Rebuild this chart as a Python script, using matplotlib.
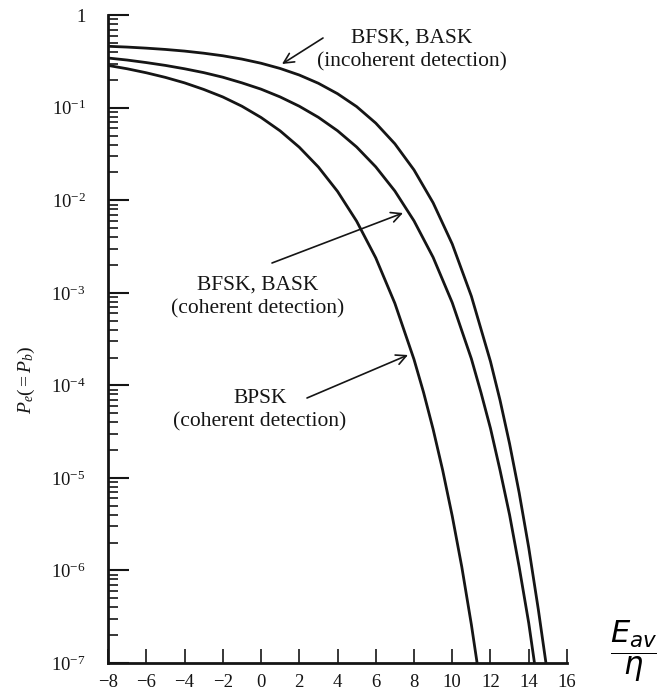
import matplotlib
matplotlib.use("Agg")
import matplotlib.pyplot as plt
from matplotlib.ticker import LogLocator, NullFormatter, FixedLocator, FixedFormatter

# --- data: E_av/eta in dB vs bit error probability ---
snr_bpsk = [-8, -7, -6, -5, -4, -3, -2, -1, 0, 1, 2, 3, 4, 5, 6, 7, 8, 8.5, 9, 9.5, 10, 10.5, 11, 11.3]
pe_bpsk = [0.287, 0.264, 0.239, 0.213, 0.186, 0.158, 0.131, 0.104, 0.0786, 0.0563, 0.0375,
           0.0229, 0.0125, 5.95e-3, 2.39e-3, 7.7e-4, 1.91e-4, 8.4e-5, 3.36e-5, 1.21e-5,
           3.87e-6, 1.09e-6, 2.6e-7, 1.0e-7]

snr_coh = [-8, -7, -6, -5, -4, -3, -2, -1, 0, 1, 2, 3, 4, 5, 6, 7, 8, 9, 10, 11, 11.5, 12, 12.5, 13, 13.5, 14, 14.3]
pe_coh = [0.345, 0.328, 0.308, 0.287, 0.264, 0.240, 0.214, 0.186, 0.159, 0.131, 0.104, 0.0789,
          0.0565, 0.0377, 0.0230, 0.0126, 6.0e-3, 2.42e-3, 7.83e-4, 1.94e-4, 8.4e-5, 3.43e-5,
          1.21e-5, 3.97e-6, 1.09e-6, 2.7e-7, 1.0e-7]

snr_incoh = [-8, -7, -6, -5, -4, -3, -2, -1, 0, 1, 2, 3, 4, 5, 6, 7, 8, 9, 10, 11, 12, 12.5, 13, 13.5, 14, 14.5, 14.9]
pe_incoh = [0.462, 0.453, 0.441, 0.427, 0.410, 0.389, 0.365, 0.336, 0.303, 0.266, 0.226, 0.184,
            0.142, 0.103, 0.0683, 0.0408, 0.0213, 9.4e-3, 3.37e-3, 9.2e-4, 1.81e-4, 6.9e-5,
            2.33e-5, 6.9e-6, 1.76e-6, 3.8e-7, 1.0e-7]

x_ticks = [-8, -6, -4, -2, 0, 2, 4, 6, 8, 10, 12, 14, 16]
y_ticks = [1e-7, 1e-6, 1e-5, 1e-4, 1e-3, 1e-2, 1e-1, 1]
y_labels = [r"$10^{-7}$", r"$10^{-6}$", r"$10^{-5}$", r"$10^{-4}$",
            r"$10^{-3}$", r"$10^{-2}$", r"$10^{-1}$", "1"]

ink = "#151515"
serif = "Liberation Serif"
plt.rcParams["mathtext.fontset"] = "custom"
plt.rcParams["mathtext.rm"] = serif
plt.rcParams["mathtext.it"] = serif + ":italic"

fig = plt.figure(figsize=(6.57, 6.93), dpi=100)
ax = fig.add_axes([0.1644, 0.0433, 0.6986, 0.9347])

for xs, ys in [(snr_bpsk, pe_bpsk), (snr_coh, pe_coh), (snr_incoh, pe_incoh)]:
    ax.plot(xs, ys, color=ink, lw=2.0, solid_capstyle="butt")

ax.set_yscale("log")
ax.set_xlim(-8, 16)
ax.set_ylim(1e-7, 1)

ax.spines["top"].set_visible(False)
ax.spines["right"].set_visible(False)
for s in ("left", "bottom"):
    ax.spines[s].set_linewidth(2.0)
    ax.spines[s].set_color(ink)

ax.xaxis.set_major_locator(FixedLocator(x_ticks))
ax.set_xticklabels([str(t).replace("-", "\u2212") for t in x_ticks], fontfamily=serif, fontsize=13.5)
ax.yaxis.set_major_locator(FixedLocator(y_ticks))
ax.yaxis.set_major_formatter(FixedFormatter(y_labels))
ax.yaxis.set_minor_locator(LogLocator(base=10, subs=range(2, 10), numticks=20))
ax.yaxis.set_minor_formatter(NullFormatter())
for lab in ax.get_yticklabels():
    lab.set_fontfamily(serif)
    lab.set_fontsize(13.5)

ax.tick_params(axis="x", which="major", direction="in", length=10, width=1.2, pad=8, colors=ink)
ax.tick_params(axis="y", which="major", direction="in", length=15, width=1.5, pad=16, colors=ink)
ax.tick_params(axis="y", which="minor", direction="in", length=7, width=1.2, colors=ink)

fig.text(0.04, 0.452, r"$P_e(=P_b)$", rotation=90, ha="center", va="center",
         fontsize=14, color=ink)

# x-axis label drawn as a fraction on the right
fig.text(0.965, 0.06, r"$\dfrac{E_{av}}{\eta}$", ha="center", va="center", fontsize=22,
         color="black", math_fontfamily="dejavusans")

def label(text, xy_px):
    fig.text(xy_px[0] / 657, 1 - xy_px[1] / 693, text, ha="center", va="center",
             fontfamily=serif, fontsize=15.5, color=ink, linespacing=1.3)

def arrow(p_from, p_to):
    fig_ax = fig.transFigure
    ax.annotate("", xy=(p_to[0] / 657, 1 - p_to[1] / 693), xycoords=fig_ax,
                xytext=(p_from[0] / 657, 1 - p_from[1] / 693), textcoords=fig_ax,
                arrowprops=dict(arrowstyle="->", color=ink, lw=1.2,
                                mutation_scale=18, shrinkA=0, shrinkB=0))

label("BFSK, BASK\n(incoherent detection)", (412, 50))
arrow((323, 38), (282, 64))
label("BFSK, BASK\n(coherent detection)", (258, 297))
arrow((272, 263), (403, 213))
label("BPSK\n(coherent detection)", (260, 410))
arrow((307, 398), (408, 355))

fig.savefig("out.png", dpi=100)
